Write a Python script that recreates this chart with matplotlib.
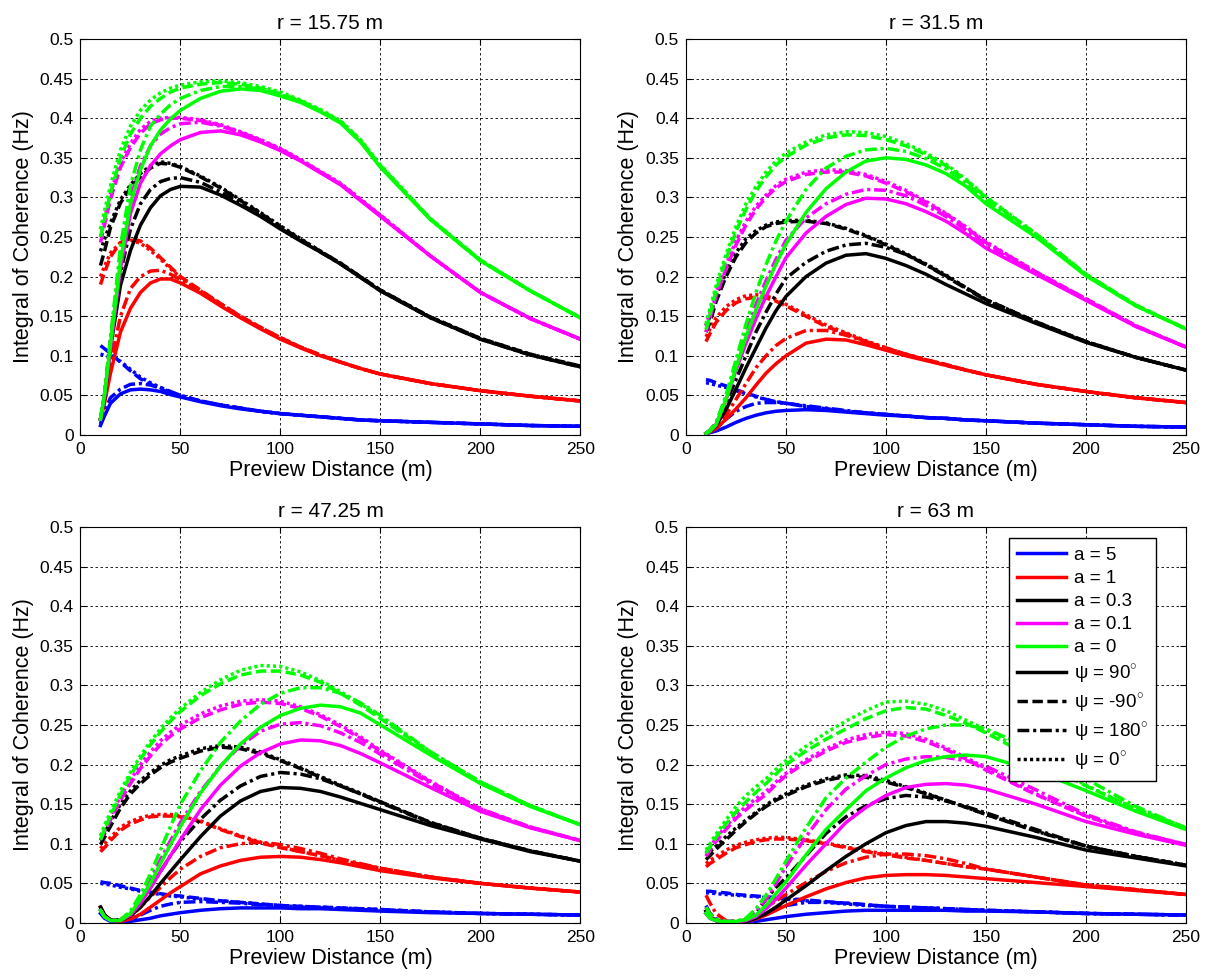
import matplotlib
matplotlib.use('Agg')
import matplotlib.pyplot as plt
from matplotlib.lines import Line2D

plt.rcParams['font.family'] = ['Liberation Sans', 'DejaVu Sans']
plt.rcParams['mathtext.fontset'] = 'custom'
plt.rcParams['mathtext.rm'] = 'Liberation Sans'

# preview distance (m)
X = [10, 12, 15, 20, 25, 30, 35, 40, 45, 50, 60, 70, 80, 90, 100, 110, 120, 130, 140, 150, 175, 200, 225, 250]

TITLES = ['r = 15.75 m', 'r = 31.5 m', 'r = 47.25 m', 'r = 63 m']
A_LABELS = ['a = 5', 'a = 1', 'a = 0.3', 'a = 0.1', 'a = 0']
PSI_LABELS = ['ψ = 90$^{\\circ}$', 'ψ = -90$^{\\circ}$', 'ψ = 180$^{\\circ}$', 'ψ = 0$^{\\circ}$']
COLORS = ['#0000ff', '#ff0000', '#000000', '#ff00ff', '#00ff00']
STYLES = ['-', (0, (3, 1.3)), (0, (3.4, 1.1, 0.9, 1.1)), (0, (0.9, 0.9))]

XTICKS = [0, 50, 100, 150, 200, 250]
YTICKS = [0, 0.05, 0.1, 0.15, 0.2, 0.25, 0.3, 0.35, 0.4, 0.45, 0.5]

# each list: psi = 90, -90, 180, 0
# r = 15.75 m
R1_A5 = [
    [0.012, 0.024, 0.04, 0.052, 0.057, 0.058, 0.057, 0.055, 0.051, 0.048, 0.042, 0.037, 0.033, 0.03, 0.027, 0.025, 0.023, 0.021, 0.019, 0.018, 0.016, 0.014, 0.012, 0.011],
    [0.113, 0.109, 0.103, 0.092, 0.081, 0.071, 0.064, 0.058, 0.053, 0.049, 0.043, 0.038, 0.034, 0.03, 0.027, 0.025, 0.023, 0.021, 0.019, 0.018, 0.016, 0.014, 0.012, 0.011],
    [0.014, 0.03, 0.047, 0.058, 0.064, 0.065, 0.063, 0.06, 0.055, 0.05, 0.043, 0.038, 0.034, 0.03, 0.027, 0.025, 0.023, 0.021, 0.019, 0.018, 0.016, 0.014, 0.012, 0.011],
    [0.102, 0.101, 0.099, 0.093, 0.083, 0.073, 0.066, 0.06, 0.054, 0.05, 0.043, 0.038, 0.034, 0.03, 0.027, 0.025, 0.023, 0.021, 0.019, 0.018, 0.016, 0.014, 0.012, 0.011],
]
R1_A1 = [
    [0.02, 0.04, 0.078, 0.13, 0.16, 0.18, 0.192, 0.197, 0.197, 0.192, 0.179, 0.163, 0.148, 0.134, 0.121, 0.11, 0.1, 0.092, 0.084, 0.077, 0.065, 0.056, 0.049, 0.043],
    [0.19, 0.205, 0.225, 0.243, 0.248, 0.245, 0.236, 0.224, 0.212, 0.2, 0.183, 0.166, 0.15, 0.136, 0.123, 0.111, 0.101, 0.092, 0.084, 0.077, 0.065, 0.056, 0.049, 0.043],
    [0.02, 0.045, 0.09, 0.15, 0.185, 0.2, 0.207, 0.208, 0.203, 0.196, 0.181, 0.165, 0.149, 0.135, 0.122, 0.111, 0.101, 0.092, 0.084, 0.077, 0.065, 0.056, 0.049, 0.043],
    [0.2, 0.213, 0.23, 0.243, 0.246, 0.242, 0.233, 0.222, 0.21, 0.199, 0.182, 0.166, 0.15, 0.136, 0.123, 0.111, 0.101, 0.092, 0.084, 0.077, 0.065, 0.056, 0.049, 0.043],
]
R1_A03 = [
    [0.02, 0.045, 0.11, 0.189, 0.233, 0.265, 0.287, 0.302, 0.31, 0.314, 0.313, 0.303, 0.29, 0.276, 0.26, 0.245, 0.231, 0.216, 0.199, 0.182, 0.148, 0.121, 0.101, 0.086],
    [0.214, 0.232, 0.262, 0.293, 0.312, 0.326, 0.337, 0.343, 0.342, 0.338, 0.326, 0.312, 0.296, 0.28, 0.263, 0.247, 0.232, 0.217, 0.2, 0.183, 0.149, 0.122, 0.102, 0.087],
    [0.02, 0.05, 0.12, 0.205, 0.26, 0.292, 0.31, 0.32, 0.324, 0.325, 0.319, 0.307, 0.292, 0.277, 0.261, 0.246, 0.231, 0.216, 0.199, 0.182, 0.148, 0.121, 0.101, 0.086],
    [0.232, 0.247, 0.268, 0.297, 0.316, 0.33, 0.34, 0.345, 0.343, 0.339, 0.327, 0.313, 0.297, 0.281, 0.264, 0.248, 0.232, 0.217, 0.2, 0.183, 0.149, 0.122, 0.102, 0.087],
]
R1_A01 = [
    [0.02, 0.048, 0.11, 0.21, 0.28, 0.318, 0.34, 0.355, 0.365, 0.373, 0.382, 0.384, 0.379, 0.37, 0.359, 0.346, 0.331, 0.316, 0.296, 0.276, 0.226, 0.18, 0.147, 0.121],
    [0.243, 0.265, 0.298, 0.338, 0.363, 0.381, 0.393, 0.398, 0.4, 0.4, 0.397, 0.391, 0.382, 0.372, 0.361, 0.347, 0.332, 0.317, 0.297, 0.277, 0.226, 0.18, 0.147, 0.121],
    [0.02, 0.05, 0.12, 0.23, 0.3, 0.34, 0.365, 0.38, 0.388, 0.393, 0.395, 0.39, 0.382, 0.372, 0.361, 0.347, 0.332, 0.317, 0.297, 0.277, 0.226, 0.18, 0.147, 0.121],
    [0.25, 0.272, 0.305, 0.344, 0.368, 0.386, 0.396, 0.4, 0.401, 0.401, 0.398, 0.392, 0.383, 0.373, 0.362, 0.348, 0.333, 0.318, 0.298, 0.278, 0.226, 0.18, 0.147, 0.121],
]
R1_A0 = [
    [0.02, 0.05, 0.115, 0.22, 0.292, 0.335, 0.365, 0.385, 0.399, 0.41, 0.425, 0.434, 0.437, 0.435, 0.428, 0.42, 0.408, 0.394, 0.37, 0.338, 0.272, 0.22, 0.182, 0.148],
    [0.25, 0.272, 0.305, 0.35, 0.38, 0.4, 0.415, 0.425, 0.433, 0.438, 0.443, 0.445, 0.443, 0.438, 0.431, 0.422, 0.41, 0.396, 0.372, 0.34, 0.273, 0.221, 0.182, 0.148],
    [0.02, 0.052, 0.122, 0.238, 0.315, 0.36, 0.39, 0.405, 0.417, 0.425, 0.435, 0.44, 0.44, 0.437, 0.43, 0.421, 0.409, 0.395, 0.371, 0.339, 0.272, 0.22, 0.182, 0.148],
    [0.26, 0.283, 0.315, 0.36, 0.39, 0.41, 0.423, 0.432, 0.438, 0.442, 0.446, 0.447, 0.445, 0.44, 0.433, 0.423, 0.411, 0.397, 0.373, 0.341, 0.273, 0.221, 0.182, 0.148],
]

# r = 31.5 m
R2_A5 = [
    [0.002, 0.003, 0.005, 0.01, 0.016, 0.021, 0.025, 0.028, 0.03, 0.031, 0.032, 0.031, 0.029, 0.027, 0.025, 0.024, 0.022, 0.021, 0.019, 0.018, 0.015, 0.013, 0.011, 0.01],
    [0.07, 0.069, 0.066, 0.062, 0.057, 0.053, 0.049, 0.045, 0.042, 0.04, 0.036, 0.033, 0.03, 0.028, 0.026, 0.024, 0.022, 0.021, 0.019, 0.018, 0.015, 0.013, 0.011, 0.01],
    [0.002, 0.004, 0.008, 0.02, 0.03, 0.036, 0.04, 0.041, 0.041, 0.04, 0.037, 0.034, 0.031, 0.028, 0.026, 0.024, 0.022, 0.021, 0.019, 0.018, 0.015, 0.013, 0.011, 0.01],
    [0.066, 0.065, 0.063, 0.06, 0.056, 0.052, 0.048, 0.045, 0.042, 0.04, 0.036, 0.033, 0.03, 0.028, 0.026, 0.024, 0.022, 0.021, 0.019, 0.018, 0.015, 0.013, 0.011, 0.01],
]
R2_A1 = [
    [0.002, 0.004, 0.008, 0.02, 0.033, 0.047, 0.063, 0.078, 0.09, 0.1, 0.116, 0.121, 0.12, 0.114, 0.107, 0.1, 0.094, 0.088, 0.082, 0.076, 0.064, 0.055, 0.047, 0.041],
    [0.118, 0.128, 0.142, 0.157, 0.167, 0.172, 0.174, 0.173, 0.169, 0.163, 0.15, 0.137, 0.128, 0.118, 0.109, 0.102, 0.095, 0.089, 0.082, 0.076, 0.064, 0.055, 0.047, 0.041],
    [0.002, 0.005, 0.01, 0.025, 0.045, 0.065, 0.085, 0.1, 0.113, 0.122, 0.132, 0.132, 0.126, 0.118, 0.11, 0.102, 0.095, 0.088, 0.082, 0.076, 0.064, 0.055, 0.047, 0.041],
    [0.124, 0.134, 0.148, 0.162, 0.171, 0.176, 0.177, 0.176, 0.171, 0.165, 0.152, 0.139, 0.129, 0.119, 0.11, 0.102, 0.095, 0.089, 0.082, 0.076, 0.064, 0.055, 0.047, 0.041],
]
R2_A03 = [
    [0.002, 0.005, 0.012, 0.032, 0.058, 0.085, 0.11, 0.135, 0.157, 0.175, 0.2, 0.217, 0.227, 0.229, 0.223, 0.214, 0.203, 0.19, 0.178, 0.166, 0.141, 0.117, 0.098, 0.082],
    [0.13, 0.142, 0.168, 0.2, 0.225, 0.243, 0.255, 0.263, 0.267, 0.269, 0.27, 0.267, 0.26, 0.251, 0.24, 0.228, 0.215, 0.201, 0.186, 0.171, 0.143, 0.118, 0.098, 0.082],
    [0.002, 0.006, 0.015, 0.04, 0.07, 0.1, 0.13, 0.155, 0.178, 0.198, 0.218, 0.232, 0.24, 0.242, 0.237, 0.228, 0.215, 0.2, 0.185, 0.17, 0.142, 0.118, 0.098, 0.082],
    [0.138, 0.15, 0.175, 0.205, 0.23, 0.248, 0.258, 0.265, 0.269, 0.271, 0.271, 0.268, 0.261, 0.252, 0.241, 0.229, 0.216, 0.202, 0.186, 0.171, 0.143, 0.118, 0.098, 0.082],
]
R2_A01 = [
    [0.002, 0.005, 0.013, 0.044, 0.082, 0.116, 0.147, 0.175, 0.2, 0.224, 0.255, 0.276, 0.291, 0.299, 0.298, 0.292, 0.282, 0.27, 0.254, 0.236, 0.203, 0.17, 0.137, 0.111],
    [0.13, 0.148, 0.175, 0.21, 0.24, 0.265, 0.285, 0.3, 0.312, 0.32, 0.329, 0.332, 0.332, 0.327, 0.318, 0.307, 0.294, 0.279, 0.262, 0.243, 0.206, 0.172, 0.138, 0.111],
    [0.002, 0.006, 0.015, 0.048, 0.09, 0.13, 0.165, 0.195, 0.222, 0.246, 0.274, 0.292, 0.304, 0.31, 0.309, 0.302, 0.29, 0.276, 0.259, 0.24, 0.205, 0.171, 0.137, 0.111],
    [0.138, 0.155, 0.18, 0.215, 0.245, 0.27, 0.289, 0.303, 0.315, 0.323, 0.332, 0.335, 0.334, 0.329, 0.32, 0.309, 0.295, 0.28, 0.263, 0.244, 0.206, 0.172, 0.138, 0.111],
]
R2_A0 = [
    [0.002, 0.005, 0.013, 0.045, 0.085, 0.124, 0.158, 0.188, 0.216, 0.241, 0.281, 0.311, 0.332, 0.346, 0.35, 0.348, 0.341, 0.33, 0.314, 0.292, 0.25, 0.201, 0.163, 0.134],
    [0.133, 0.152, 0.182, 0.222, 0.257, 0.285, 0.308, 0.326, 0.341, 0.351, 0.366, 0.375, 0.379, 0.378, 0.373, 0.365, 0.354, 0.34, 0.322, 0.3, 0.254, 0.203, 0.164, 0.134],
    [0.002, 0.006, 0.015, 0.05, 0.095, 0.14, 0.18, 0.215, 0.245, 0.27, 0.31, 0.337, 0.352, 0.36, 0.362, 0.358, 0.349, 0.336, 0.318, 0.296, 0.252, 0.202, 0.163, 0.134],
    [0.14, 0.16, 0.188, 0.228, 0.263, 0.292, 0.314, 0.332, 0.346, 0.356, 0.37, 0.379, 0.383, 0.382, 0.377, 0.368, 0.356, 0.342, 0.323, 0.301, 0.254, 0.203, 0.164, 0.134],
]

# r = 47.25 m
R3_A5 = [
    [0.012, 0.006, 0.002, 0.001, 0.002, 0.004, 0.006, 0.009, 0.011, 0.013, 0.016, 0.018, 0.019, 0.019, 0.019, 0.018, 0.018, 0.017, 0.016, 0.015, 0.013, 0.012, 0.011, 0.01],
    [0.052, 0.051, 0.05, 0.047, 0.044, 0.041, 0.039, 0.037, 0.035, 0.034, 0.031, 0.028, 0.026, 0.024, 0.022, 0.021, 0.02, 0.019, 0.018, 0.017, 0.014, 0.012, 0.011, 0.01],
    [0.014, 0.007, 0.003, 0.002, 0.004, 0.01, 0.016, 0.021, 0.024, 0.026, 0.027, 0.026, 0.025, 0.023, 0.022, 0.02, 0.019, 0.018, 0.017, 0.016, 0.014, 0.012, 0.011, 0.01],
    [0.05, 0.049, 0.048, 0.045, 0.043, 0.04, 0.038, 0.036, 0.034, 0.033, 0.03, 0.028, 0.026, 0.024, 0.022, 0.021, 0.02, 0.019, 0.018, 0.017, 0.014, 0.012, 0.011, 0.01],
]
R3_A1 = [
    [0.02, 0.01, 0.004, 0.002, 0.005, 0.011, 0.02, 0.029, 0.038, 0.046, 0.062, 0.072, 0.079, 0.083, 0.084, 0.083, 0.08, 0.076, 0.071, 0.066, 0.057, 0.05, 0.044, 0.039],
    [0.09, 0.095, 0.104, 0.117, 0.125, 0.13, 0.134, 0.135, 0.135, 0.134, 0.128, 0.118, 0.109, 0.101, 0.095, 0.09, 0.085, 0.079, 0.074, 0.069, 0.058, 0.05, 0.044, 0.039],
    [0.02, 0.01, 0.004, 0.003, 0.008, 0.02, 0.033, 0.045, 0.057, 0.068, 0.084, 0.095, 0.1, 0.102, 0.099, 0.094, 0.088, 0.081, 0.075, 0.069, 0.058, 0.05, 0.044, 0.039],
    [0.094, 0.1, 0.108, 0.121, 0.128, 0.133, 0.136, 0.137, 0.137, 0.135, 0.129, 0.119, 0.11, 0.102, 0.096, 0.09, 0.085, 0.079, 0.074, 0.069, 0.058, 0.05, 0.044, 0.039],
]
R3_A03 = [
    [0.02, 0.01, 0.004, 0.003, 0.009, 0.02, 0.034, 0.05, 0.065, 0.08, 0.109, 0.135, 0.154, 0.166, 0.171, 0.17, 0.166, 0.159, 0.151, 0.143, 0.123, 0.106, 0.09, 0.078],
    [0.099, 0.108, 0.122, 0.145, 0.163, 0.176, 0.187, 0.196, 0.203, 0.208, 0.217, 0.222, 0.22, 0.214, 0.205, 0.195, 0.184, 0.173, 0.163, 0.153, 0.127, 0.107, 0.091, 0.078],
    [0.02, 0.01, 0.004, 0.004, 0.012, 0.026, 0.045, 0.065, 0.085, 0.103, 0.131, 0.155, 0.173, 0.185, 0.19, 0.188, 0.182, 0.173, 0.163, 0.152, 0.126, 0.107, 0.091, 0.078],
    [0.104, 0.113, 0.128, 0.15, 0.167, 0.18, 0.19, 0.199, 0.206, 0.211, 0.22, 0.224, 0.222, 0.216, 0.206, 0.196, 0.185, 0.174, 0.164, 0.153, 0.127, 0.107, 0.091, 0.078],
]
R3_A01 = [
    [0.016, 0.008, 0.003, 0.003, 0.01, 0.025, 0.044, 0.065, 0.085, 0.105, 0.143, 0.174, 0.198, 0.215, 0.226, 0.231, 0.23, 0.224, 0.214, 0.202, 0.171, 0.141, 0.12, 0.104],
    [0.105, 0.115, 0.13, 0.155, 0.176, 0.195, 0.211, 0.225, 0.236, 0.245, 0.259, 0.269, 0.276, 0.279, 0.277, 0.271, 0.261, 0.248, 0.233, 0.217, 0.178, 0.144, 0.121, 0.104],
    [0.016, 0.008, 0.003, 0.004, 0.013, 0.03, 0.055, 0.08, 0.104, 0.127, 0.166, 0.198, 0.224, 0.242, 0.251, 0.253, 0.249, 0.24, 0.228, 0.213, 0.176, 0.143, 0.121, 0.104],
    [0.11, 0.12, 0.135, 0.16, 0.181, 0.2, 0.216, 0.23, 0.241, 0.25, 0.264, 0.274, 0.28, 0.282, 0.28, 0.273, 0.263, 0.25, 0.235, 0.218, 0.179, 0.144, 0.121, 0.104],
]
R3_A0 = [
    [0.016, 0.008, 0.003, 0.003, 0.012, 0.03, 0.05, 0.075, 0.099, 0.122, 0.164, 0.198, 0.226, 0.247, 0.262, 0.271, 0.275, 0.273, 0.265, 0.25, 0.212, 0.176, 0.147, 0.124],
    [0.105, 0.118, 0.135, 0.162, 0.186, 0.207, 0.225, 0.241, 0.255, 0.267, 0.287, 0.302, 0.313, 0.318, 0.318, 0.313, 0.304, 0.29, 0.275, 0.258, 0.215, 0.178, 0.148, 0.124],
    [0.016, 0.008, 0.003, 0.004, 0.015, 0.036, 0.062, 0.092, 0.122, 0.15, 0.192, 0.228, 0.255, 0.276, 0.29, 0.297, 0.297, 0.29, 0.278, 0.262, 0.216, 0.178, 0.148, 0.124],
    [0.11, 0.123, 0.14, 0.167, 0.19, 0.211, 0.229, 0.245, 0.259, 0.271, 0.291, 0.307, 0.319, 0.325, 0.324, 0.317, 0.306, 0.292, 0.277, 0.26, 0.216, 0.178, 0.148, 0.124],
]

# r = 63 m
R4_A5 = [
    [0.012, 0.006, 0.003, 0.001, 0.001, 0.001, 0.002, 0.004, 0.006, 0.008, 0.011, 0.013, 0.015, 0.016, 0.016, 0.016, 0.016, 0.016, 0.015, 0.015, 0.014, 0.012, 0.011, 0.01],
    [0.04, 0.04, 0.039, 0.038, 0.036, 0.035, 0.034, 0.033, 0.032, 0.031, 0.029, 0.027, 0.025, 0.023, 0.021, 0.02, 0.019, 0.018, 0.017, 0.016, 0.014, 0.012, 0.011, 0.01],
    [0.022, 0.012, 0.005, 0.001, 0.001, 0.002, 0.006, 0.012, 0.018, 0.022, 0.026, 0.026, 0.025, 0.023, 0.021, 0.02, 0.019, 0.018, 0.017, 0.016, 0.014, 0.012, 0.011, 0.01],
    [0.038, 0.038, 0.037, 0.036, 0.035, 0.034, 0.033, 0.032, 0.031, 0.03, 0.028, 0.026, 0.024, 0.022, 0.021, 0.02, 0.019, 0.018, 0.017, 0.016, 0.014, 0.012, 0.011, 0.01],
]
R4_A1 = [
    [0.015, 0.008, 0.003, 0.001, 0.001, 0.002, 0.005, 0.01, 0.016, 0.022, 0.033, 0.043, 0.051, 0.057, 0.06, 0.061, 0.061, 0.06, 0.058, 0.056, 0.051, 0.046, 0.041, 0.036],
    [0.071, 0.075, 0.08, 0.088, 0.095, 0.099, 0.103, 0.105, 0.106, 0.106, 0.104, 0.1, 0.095, 0.09, 0.086, 0.082, 0.079, 0.075, 0.071, 0.068, 0.058, 0.048, 0.042, 0.036],
    [0.035, 0.025, 0.012, 0.003, 0.002, 0.004, 0.01, 0.019, 0.028, 0.036, 0.051, 0.065, 0.076, 0.083, 0.087, 0.087, 0.085, 0.081, 0.075, 0.068, 0.058, 0.048, 0.042, 0.036],
    [0.075, 0.079, 0.084, 0.092, 0.098, 0.102, 0.105, 0.107, 0.108, 0.108, 0.105, 0.101, 0.096, 0.091, 0.087, 0.083, 0.079, 0.075, 0.071, 0.068, 0.058, 0.048, 0.042, 0.036],
]
R4_A03 = [
    [0.015, 0.008, 0.003, 0.001, 0.001, 0.002, 0.006, 0.012, 0.02, 0.029, 0.047, 0.066, 0.084, 0.1, 0.114, 0.123, 0.128, 0.128, 0.126, 0.122, 0.108, 0.092, 0.082, 0.072],
    [0.08, 0.085, 0.093, 0.105, 0.117, 0.128, 0.138, 0.147, 0.155, 0.161, 0.172, 0.18, 0.185, 0.184, 0.178, 0.171, 0.163, 0.155, 0.146, 0.137, 0.116, 0.097, 0.084, 0.073],
    [0.02, 0.011, 0.005, 0.002, 0.002, 0.004, 0.012, 0.03, 0.045, 0.057, 0.085, 0.113, 0.134, 0.148, 0.157, 0.161, 0.159, 0.154, 0.147, 0.139, 0.118, 0.097, 0.084, 0.073],
    [0.085, 0.09, 0.097, 0.109, 0.12, 0.13, 0.14, 0.149, 0.157, 0.163, 0.174, 0.182, 0.187, 0.186, 0.18, 0.172, 0.164, 0.155, 0.146, 0.137, 0.116, 0.097, 0.084, 0.073],
]
R4_A01 = [
    [0.012, 0.006, 0.003, 0.001, 0.001, 0.003, 0.008, 0.018, 0.03, 0.044, 0.073, 0.1, 0.127, 0.146, 0.161, 0.171, 0.175, 0.176, 0.174, 0.169, 0.15, 0.128, 0.112, 0.098],
    [0.084, 0.092, 0.103, 0.118, 0.132, 0.143, 0.153, 0.162, 0.175, 0.186, 0.203, 0.217, 0.228, 0.234, 0.238, 0.236, 0.229, 0.219, 0.207, 0.193, 0.162, 0.135, 0.114, 0.099],
    [0.02, 0.011, 0.005, 0.002, 0.002, 0.005, 0.015, 0.03, 0.05, 0.071, 0.109, 0.143, 0.169, 0.186, 0.2, 0.207, 0.21, 0.209, 0.205, 0.198, 0.168, 0.137, 0.115, 0.099],
    [0.088, 0.096, 0.107, 0.122, 0.136, 0.147, 0.157, 0.166, 0.178, 0.189, 0.206, 0.22, 0.231, 0.238, 0.241, 0.239, 0.232, 0.221, 0.209, 0.195, 0.163, 0.135, 0.114, 0.099],
]
R4_A0 = [
    [0.012, 0.006, 0.003, 0.001, 0.002, 0.004, 0.01, 0.022, 0.037, 0.052, 0.086, 0.118, 0.143, 0.167, 0.183, 0.196, 0.205, 0.21, 0.212, 0.21, 0.192, 0.167, 0.141, 0.118],
    [0.088, 0.096, 0.108, 0.125, 0.14, 0.153, 0.165, 0.176, 0.188, 0.2, 0.217, 0.232, 0.245, 0.258, 0.268, 0.272, 0.27, 0.262, 0.252, 0.24, 0.207, 0.173, 0.144, 0.12],
    [0.02, 0.011, 0.005, 0.002, 0.002, 0.006, 0.018, 0.035, 0.056, 0.078, 0.12, 0.158, 0.183, 0.203, 0.222, 0.236, 0.245, 0.25, 0.25, 0.245, 0.218, 0.182, 0.147, 0.12],
    [0.092, 0.1, 0.112, 0.13, 0.147, 0.161, 0.172, 0.182, 0.194, 0.205, 0.223, 0.24, 0.255, 0.268, 0.279, 0.28, 0.276, 0.268, 0.256, 0.244, 0.209, 0.174, 0.144, 0.12],
]

PANELS = [
    [R1_A5, R1_A1, R1_A03, R1_A01, R1_A0],
    [R2_A5, R2_A1, R2_A03, R2_A01, R2_A0],
    [R3_A5, R3_A1, R3_A03, R3_A01, R3_A0],
    [R4_A5, R4_A1, R4_A03, R4_A01, R4_A0],
]

LW = 2.5


def draw_panel(ax, series, title):
    for color, curves in zip(COLORS, series):
        for style, y in zip(STYLES, curves):
            ax.plot(X, y, color=color, linestyle=style, linewidth=LW)
    ax.set_xlim(0, 250)
    ax.set_ylim(0, 0.5)
    ax.set_xticks(XTICKS)
    ax.set_yticks(YTICKS)
    ax.set_xticklabels(['%g' % v for v in XTICKS])
    ax.set_yticklabels(['%g' % v for v in YTICKS])
    ax.tick_params(direction='in', top=True, right=True, length=4, width=0.8, labelsize=12.5, pad=5)
    ax.grid(True, color='k', linestyle=(0, (3, 3)), linewidth=0.6)
    for sp in ax.spines.values():
        sp.set_linewidth(0.8)
    ax.set_title(title, fontsize=15, pad=7)
    ax.set_xlabel('Preview Distance (m)', fontsize=15.5, labelpad=2)
    ax.set_ylabel('Integral of Coherence (Hz)', fontsize=15.5, labelpad=4)


def main():
    fig = plt.figure(figsize=(12.12, 9.8), dpi=100)
    lefts = [0.0664, 0.566, 0.0664, 0.566]
    bottoms = [0.5561, 0.5561, 0.0582, 0.0582]
    axes = []
    for i in range(4):
        ax = fig.add_axes([lefts[i], bottoms[i], 0.4125, 0.4041])
        draw_panel(ax, PANELS[i], TITLES[i])
        axes.append(ax)

    handles = [Line2D([], [], color=c, linewidth=LW) for c in COLORS]
    handles += [Line2D([], [], color='k', linestyle=s, linewidth=LW) for s in STYLES]
    leg = axes[3].legend(handles, A_LABELS + PSI_LABELS, loc='upper right',
                         bbox_to_anchor=(0.94, 0.971), borderaxespad=0, fontsize=13.5,
                         fancybox=False, framealpha=1, edgecolor='k',
                         handlelength=2.6, handletextpad=0.4, labelspacing=0.32,
                         borderpad=0.45)
    leg.get_frame().set_linewidth(1.0)

    fig.savefig('out.png', dpi=100)


if __name__ == "__main__":
    main()
